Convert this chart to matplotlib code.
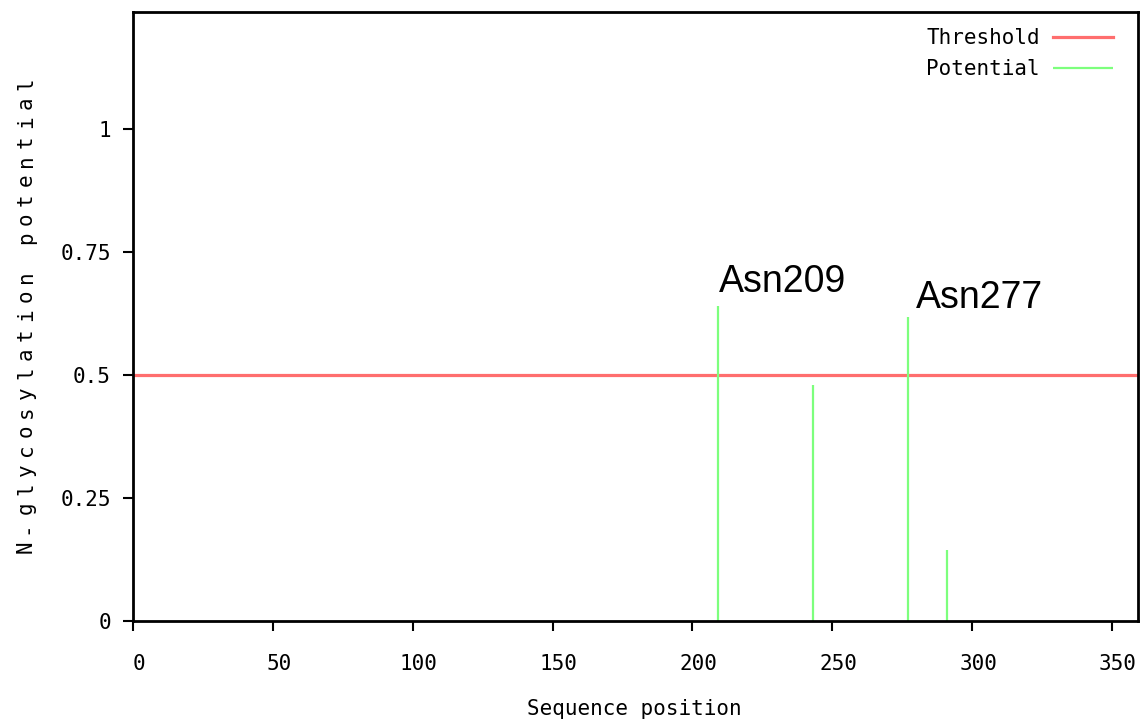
import matplotlib
matplotlib.use("Agg")
import matplotlib.pyplot as plt
from matplotlib.transforms import ScaledTranslation

# N-glycosylation sites (sequence position, potential)
positions = [209, 243, 277, 291]
potentials = [0.641, 0.480, 0.617, 0.145]
threshold = 0.5

site_labels = ["Asn209", "Asn277"]
label_x = [209.5, 280]
label_y = [0.669, 0.637]

x_ticks = [0, 50, 100, 150, 200, 250, 300, 350]
y_ticks = [0, 0.25, 0.5, 0.75, 1]
y_ticklabels = ["0", "0.25", "0.5", "0.75", "1"]

xlabel = "Sequence position"
ylabel = "N-glycosylation potential"

mono = "DejaVu Sans Mono"
W, H = 1140, 725

fig = plt.figure(figsize=(W / 100, H / 100), dpi=100)
ax = fig.add_axes([133 / W, 1 - 621 / H, 1005 / W, 609 / H])

ax.axhline(threshold, color="#ff6e6e", lw=2.3, label="Threshold")
ax.vlines(positions, 0, potentials, color="#7dff7d", lw=1.6, label="Potential")

for txt, x, y in zip(site_labels, label_x, label_y):
    ax.text(x, y, txt, fontsize=27, family="Liberation Sans", ha="left", va="baseline")

ax.set_xlim(0, 359.3)
ax.set_ylim(0, 1.238)
ax.set_xticks(x_ticks)
ax.set_xticklabels([str(t) for t in x_ticks], family=mono, fontsize=15)
ax.set_yticks(y_ticks)
ax.set_yticklabels(y_ticklabels, family=mono, fontsize=15)
ax.tick_params(direction="out", length=7, width=1.5)
ax.tick_params(axis="x", pad=17)
ax.tick_params(axis="y", pad=9)
# old-style labels sit a little right of their ticks
for lab in ax.get_xticklabels():
    lab.set_transform(lab.get_transform() + ScaledTranslation(6 / 100, 0, fig.dpi_scale_trans))

for s in ax.spines.values():
    s.set_linewidth(2)

fig.text(634 / W, 1 - 709 / H, xlabel, family=mono, fontsize=15, ha="center", va="center")

# y label is drawn with wide letter spacing, one character at a time
pitch = 19.3
yc = 315
n = len(ylabel)
for i, ch in enumerate(ylabel):
    ypx = yc + (n / 2 - i - 0.5) * pitch
    fig.text(26 / W, 1 - ypx / H, ch, family=mono, fontsize=15, rotation=90,
             ha="center", va="center")

ax.legend(loc="upper right", frameon=False, markerfirst=False,
          prop={"family": mono, "size": 15}, handlelength=2.9, handletextpad=0.6,
          labelspacing=0.55, borderpad=0, borderaxespad=0,
          bbox_to_anchor=(1113 / W, 1 - 28 / H), bbox_transform=fig.transFigure)

fig.savefig("out.png", dpi=100)
